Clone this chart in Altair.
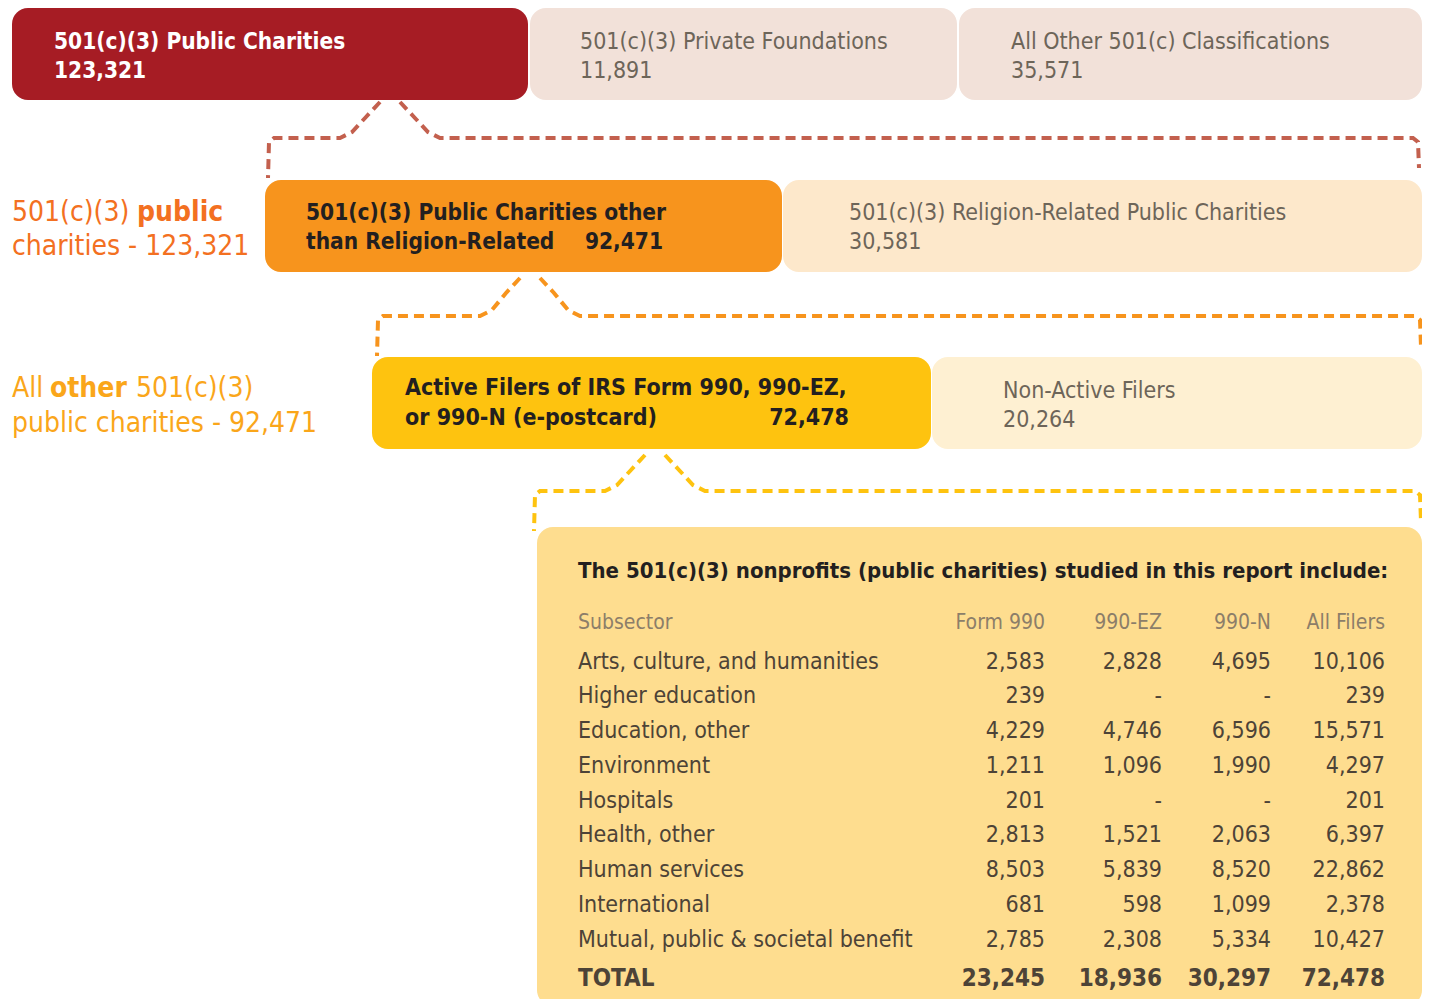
import altair as alt
import pandas as pd

# ---------------- data ----------------
tier1_labels = ["501(c)(3) Public Charities", "501(c)(3) Private Foundations", "All Other 501(c) Classifications"]
tier1_values = [123321, 11891, 35571]
tier2_labels = ["501(c)(3) Public Charities other", "501(c)(3) Religion-Related Public Charities"]
tier2_sub = "than Religion-Related"
tier2_values = [92471, 30581]
tier3_labels = ["Active Filers of IRS Form 990, 990-EZ,", "Non-Active Filers"]
tier3_sub = "or 990-N (e-postcard)"
tier3_values = [72478, 20264]

table_title = "The 501(c)(3) nonprofits (public charities) studied in this report include:"
columns = ["Subsector", "Form 990", "990-EZ", "990-N", "All Filers"]
subsectors = ["Arts, culture, and humanities", "Higher education", "Education, other", "Environment",
              "Hospitals", "Health, other", "Human services", "International",
              "Mutual, public & societal benefit"]
form990 = [2583, 239, 4229, 1211, 201, 2813, 8503, 681, 2785]
form990ez = [2828, None, 4746, 1096, None, 1521, 5839, 598, 2308]
form990n = [4695, None, 6596, 1990, None, 2063, 8520, 1099, 5334]
all_filers = [10106, 239, 15571, 4297, 201, 6397, 22862, 2378, 10427]
totals = [23245, 18936, 30297, 72478]

# ---------------- layout / style ----------------
FONT = "Liberation Sans Narrow, DejaVu Sans Condensed, Roboto, sans-serif"
DARK = "#231F20"
GRAY = "#6D6559"
TBL = "#4D4337"
HDR = "#8C7E69"

X = lambda f="x": alt.X(f"{f}:Q", scale=alt.Scale(domain=[8, 1422], nice=False, zero=False), axis=None)
Y = lambda f="y": alt.Y(f"{f}:Q", scale=alt.Scale(domain=[8, 999], nice=False, zero=False, reverse=True), axis=None)


def fmt(v):
    return "-" if v is None else f"{v:,}"


boxes = pd.DataFrame([
    dict(x=12, x2=528, y=8, y2=100, fill="#A61C24"),
    dict(x=530, x2=957, y=8, y2=100, fill="#F2E1D9"),
    dict(x=959, x2=1422, y=8, y2=100, fill="#F2E1D9"),
    dict(x=265, x2=782, y=180, y2=272, fill="#F7941D"),
    dict(x=783, x2=1422, y=180, y2=272, fill="#FDE8CB"),
    dict(x=372, x2=931, y=357, y2=449, fill="#FEC30F"),
    dict(x=932, x2=1422, y=357, y2=449, fill="#FEF0D2"),
    dict(x=537, x2=1422, y=527, y2=1006, fill="#FEDD8F"),
])


def connector(cx, ytop, ybot, xl, xr, color, name):
    # two branches from a box's bottom to a dashed bracket
    pts = []
    left = [(cx - 8, ytop), (cx - 22, ytop + 15), (cx - 36, ybot - 6), (cx - 48, ybot), (xl + 6, ybot),
            (xl + 1, ybot + 4), (xl, ybot + 40)]
    right = [(cx + 12, ytop), (cx + 26, ytop + 15), (cx + 40, ybot - 6), (cx + 52, ybot), (xr - 6, ybot),
             (xr - 1, ybot + 4), (xr, ybot + 30)]
    for i, (x, y) in enumerate(left):
        pts.append(dict(x=x, y=y, i=i, path=name + "L", c=color))
    for i, (x, y) in enumerate(right):
        pts.append(dict(x=x, y=y, i=i, path=name + "R", c=color))
    return pts


paths = pd.DataFrame(
    connector(388, 102, 138, 268, 1419, "#C3604E", "a")
    + connector(528, 278, 316, 377, 1421, "#F7941D", "b")
    + connector(653, 455, 491, 534, 1421, "#FEC30F", "c")
)

rects = alt.Chart(boxes).mark_rect(cornerRadius=16).encode(
    x=X(), x2="x2:Q", y=Y(), y2="y2:Q", color=alt.Color("fill:N", scale=None))

lines = alt.Chart(paths).mark_line(strokeDash=[10, 6], strokeWidth=4).encode(
    x=X(), y=Y(), detail="path:N", order="i:Q", color=alt.Color("c:N", scale=None))

DY = 1.0


def txt(rows, size, weight, color, align="left", font=FONT):
    df = pd.DataFrame(rows, columns=["x", "y", "t"])
    df["y"] = df["y"] + DY
    return alt.Chart(df).mark_text(align=align, baseline="middle", fontSize=size, fontWeight=weight,
                                   color=color, font=font).encode(x=X(), y=Y(), text="t:N")


layers = [rects, lines]

# tier 1
layers.append(txt([(54, 41, tier1_labels[0]), (54, 70, fmt(tier1_values[0]))], 22.5, "bold", "white"))
layers.append(txt([(580, 41, tier1_labels[1]), (580, 70, fmt(tier1_values[1])),
                   (1011, 41, tier1_labels[2]), (1011, 70, fmt(tier1_values[2]))], 23, "normal", GRAY))
# tier 2
layers.append(txt([(306, 212, tier2_labels[0]), (306, 241, tier2_sub)], 22.5, "bold", DARK))
layers.append(txt([(663, 241, fmt(tier2_values[0]))], 22.5, "bold", DARK, "right"))
layers.append(txt([(849, 212, tier2_labels[1]), (849, 241, fmt(tier2_values[1]))], 23, "normal", GRAY))
# tier 3
layers.append(txt([(405, 387, tier3_labels[0]), (405, 417, tier3_sub)], 23, "bold", DARK))
layers.append(txt([(849, 417, fmt(tier3_values[0]))], 23, "bold", DARK, "right"))
layers.append(txt([(1003, 390, tier3_labels[1]), (1003, 419, fmt(tier3_values[1]))], 23, "normal", GRAY))

# side labels
OR1 = "#F37021"
OR2 = "#FAA61A"
layers.append(txt([(12, 212, "501(c)(3)"), (12, 246, f"charities - {tier1_values[0]:,}")], 28, "normal", OR1))
layers.append(txt([(137, 212, "public")], 28, "bold", OR1))
layers.append(txt([(12, 388, "All"), (136, 388, "501(c)(3)"),
                   (12, 423, f"public charities - {tier2_values[0]:,}")], 28, "normal", OR2))
layers.append(txt([(50, 388, "other")], 28, "bold", OR2))

# table
layers.append(txt([(578, 570, table_title)], 22, "bold", DARK))
col_x = [578, 1045, 1162, 1271, 1385]
layers.append(txt([(col_x[0], 622, columns[0])], 21, "normal", HDR))
layers.append(txt([(cx, 622, c) for cx, c in zip(col_x[1:], columns[1:])], 21, "normal", HDR, "right"))

row_y0, row_step = 660.5, 34.75
body_left, body_right = [], []
for r, name in enumerate(subsectors):
    yy = row_y0 + r * row_step
    body_left.append((col_x[0], yy, name))
    for cx, series in zip(col_x[1:], [form990, form990ez, form990n, all_filers]):
        body_right.append((cx, yy, fmt(series[r])))
layers.append(txt(body_left, 23, "normal", TBL))
layers.append(txt(body_right, 23, "normal", TBL, "right"))
layers.append(txt([(col_x[0], 977.5, "TOTAL")], 24, "bold", TBL))
layers.append(txt([(cx, 977.5, fmt(v)) for cx, v in zip(col_x[1:], totals)], 24, "bold", TBL, "right"))

chart = alt.layer(*layers).properties(
    width=1414, height=991, padding=0, autosize="none"
).configure_view(stroke=None)

chart.save("out.html", embed_options={"renderer": "svg", "actions": False})
